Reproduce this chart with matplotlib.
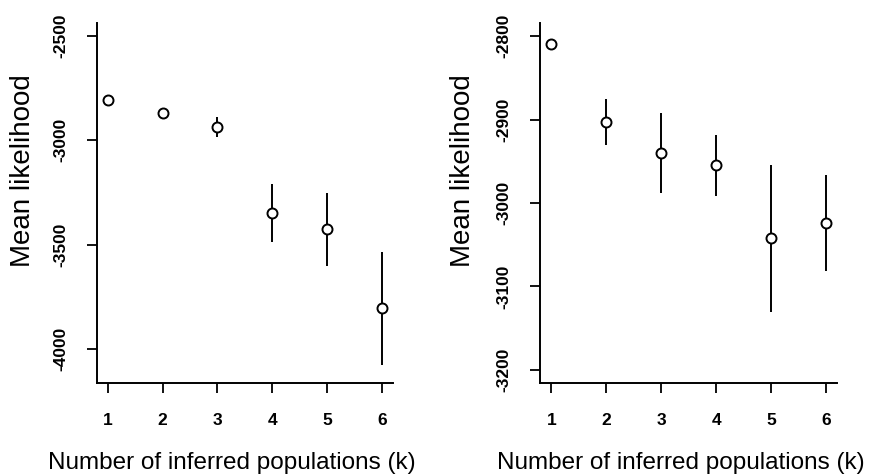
import matplotlib
matplotlib.use("Agg")
import matplotlib.pyplot as plt

plt.rcParams["font.family"] = ["Liberation Sans", "DejaVu Sans"]

# ── Data ──────────────────────────────────────────────────────────────
k_values = [1, 2, 3, 4, 5, 6]

left_mean = [-2808, -2868, -2936, -3347, -3427, -3805]
left_err = [6, 12, 48, 140, 173, 270]

right_mean = [-2810, -2903, -2940, -2955, -3042, -3024]
right_err = [3, 28, 48, 37, 88, 57]

left_yticks = [-2500, -3000, -3500, -4000]
right_yticks = [-2800, -2900, -3000, -3100, -3200]

W, H = 874, 475
fig = plt.figure(figsize=(W / 100, H / 100), dpi=100, facecolor="white")

ax_l = fig.add_axes([96.7 / W, 1 - 383 / H, (393 - 96.7) / W, (383 - 22.7) / H])
ax_r = fig.add_axes([540.3 / W, 1 - 383 / H, (837 - 540.3) / W, (383 - 22.7) / H])


def style_panel(ax, means, errs, yticks, ylim):
    ax.errorbar(k_values, means, yerr=errs, fmt="o", mfc="white", mec="black",
                ms=7.2, mew=1.4, ecolor="black", elinewidth=1.4, capsize=0,
                color="black", zorder=3)
    ax.set_xlim(0.8, 6.2)
    ax.set_ylim(*ylim)
    ax.set_xticks(k_values)
    ax.set_yticks(yticks)
    ax.set_xticklabels([str(k) for k in k_values], fontsize=12.5, fontweight="bold")
    ax.set_yticklabels([str(t) for t in yticks], fontsize=12.5,
                       fontweight="bold", rotation=90, va="center")
    for side in ("top", "right"):
        ax.spines[side].set_visible(False)
    for side in ("left", "bottom"):
        ax.spines[side].set_linewidth(1.4)
    ax.tick_params(axis="both", direction="out", length=7.5, width=1.3,
                   color="black")
    ax.tick_params(axis="x", pad=14)
    ax.tick_params(axis="y", pad=13)


style_panel(ax_l, left_mean, left_err, left_yticks, (-4163, -2436))
style_panel(ax_r, right_mean, right_err, right_yticks, (-3215.6, -2784))

# axis titles
fig.text(23 / W, 1 - 171 / H, "Mean likelihood", rotation=90,
         ha="center", va="center", fontsize=20)
fig.text(463 / W, 1 - 171 / H, "Mean likelihood", rotation=90,
         ha="center", va="center", fontsize=20)
fig.text(232 / W, 1 - 469 / H, "Number of inferred populations (k)",
         ha="center", va="baseline", fontsize=17.5)
fig.text(681 / W, 1 - 469 / H, "Number of inferred populations (k)",
         ha="center", va="baseline", fontsize=17.5)

fig.savefig("out.png", dpi=100, facecolor="white")
